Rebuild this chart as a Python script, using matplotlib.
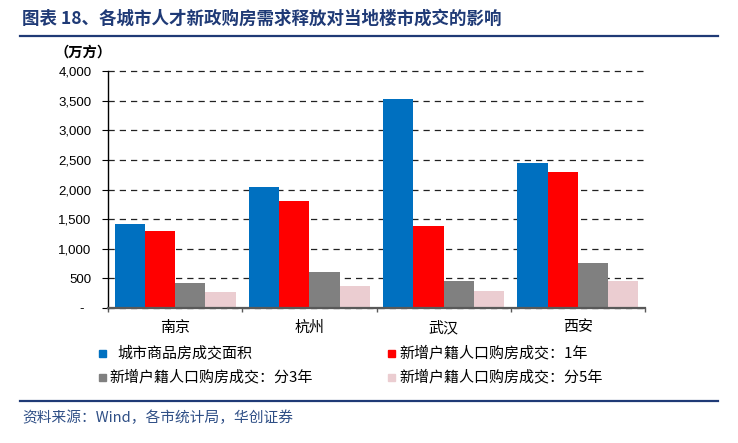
import numpy as np
import matplotlib
matplotlib.use('Agg')
import matplotlib.pyplot as plt
from matplotlib.lines import Line2D
from matplotlib.patches import Rectangle
from matplotlib.ticker import FuncFormatter, FixedLocator

plt.rcParams['font.family'] = ['Noto Sans CJK SC', 'DejaVu Sans']

cities = ['南京', '杭州', '武汉', '西安']
area_total = [1420, 2050, 3520, 2445]     # 城市商品房成交面积
buy_1y = [1300, 1800, 1380, 2300]         # 新增户籍人口购房成交：1年
buy_3y = [430, 600, 450, 765]             # 分3年
buy_5y = [265, 365, 280, 450]             # 分5年
series_names = ['城市商品房成交面积', '新增户籍人口购房成交：1年',
                '新增户籍人口购房成交：分3年', '新增户籍人口购房成交：分5年']
colors = ['#0070C0', '#FF0000', '#808080', '#EBCDD1']

W, H = 738, 443
navy = '#1F3A76'

fig = plt.figure(figsize=(W / 100, H / 100), dpi=100)

# 标题与横线
fig.text(22 / W, 1 - 19 / H, '图表 18、各城市人才新政购房需求释放对当地楼市成交的影响',
         fontsize=12.6, fontweight='bold', color=navy, va='center', ha='left')
fig.add_artist(Line2D([20 / W, 718 / W], [1 - 36 / H] * 2, color=navy, lw=1.6,
                      transform=fig.transFigure))
fig.add_artist(Line2D([20 / W, 718 / W], [1 - 401 / H] * 2, color=navy, lw=1.6,
                      transform=fig.transFigure))
fig.text(22 / W, 1 - 418 / H, '资料来源：Wind，各市统计局，华创证券',
         fontsize=10.6, color='#2F4F86', style='italic', va='center', ha='left')

ax = fig.add_axes([108 / W, 1 - 308 / H, (645 - 108) / W, (308 - 71) / H])
x = np.arange(len(cities))
bw = 0.225
all_series = [area_total, buy_1y, buy_3y, buy_5y]
for i, (vals, c) in enumerate(zip(all_series, colors)):
    ax.bar(x + (i - 1.5) * bw, vals, width=bw, color=c, zorder=3)

ax.set_xlim(-0.5, 3.5)
ax.set_ylim(0, 4000)
ax.set_yticks(np.arange(0, 4001, 500))
ax.yaxis.set_major_formatter(FuncFormatter(lambda v, p: '-  ' if v == 0 else f'{int(v):,}'))
ax.tick_params(axis='y', direction='out', length=4, width=0.8, pad=8, labelsize=9.5)
for lab in ax.get_yticklabels():
    lab.set_fontfamily(['Liberation Sans', 'DejaVu Sans'])

ax.xaxis.set_major_locator(FixedLocator([-0.5, 0.5, 1.5, 2.5, 3.5]))
ax.xaxis.set_minor_locator(FixedLocator(x))
ax.set_xticklabels([], minor=False)
ax.set_xticklabels(cities, minor=True, fontsize=10.8)
ax.tick_params(axis='x', which='major', direction='out', length=3, width=1, color='#595959')
ax.tick_params(axis='x', which='minor', length=0, pad=9)

ax.yaxis.grid(True, linestyle=(0, (5, 4)), color='#222222', lw=0.9, zorder=0)
for gl in ax.get_ygridlines():
    gl.set_clip_on(False)
ax.set_axisbelow(True)

for s in ['top', 'right']:
    ax.spines[s].set_visible(False)
ax.spines['left'].set_color('black')
ax.spines['left'].set_linewidth(1)
ax.spines['bottom'].set_color('#595959')
ax.spines['bottom'].set_linewidth(1.6)
ax.spines['bottom'].set_zorder(4)

fig.text(55 / W, 1 - 53 / H, '（万方）', fontsize=10.3, fontweight='bold',
         va='center', ha='left')

# 图例
leg_pos = [(102, 353, 117), (392, 353, 399), (102, 377, 109), (392, 377, 399)]
for (mx, my, tx), name, c in zip(leg_pos, series_names, colors):
    fig.add_artist(Rectangle(((mx - 3.5) / W, 1 - (my + 3.5) / H), 7 / W, 7 / H,
                             color=c, transform=fig.transFigure))
    fig.text(tx / W, 1 - my / H, name, fontsize=10.8, va='center', ha='left')

fig.savefig('out.png', dpi=100)
